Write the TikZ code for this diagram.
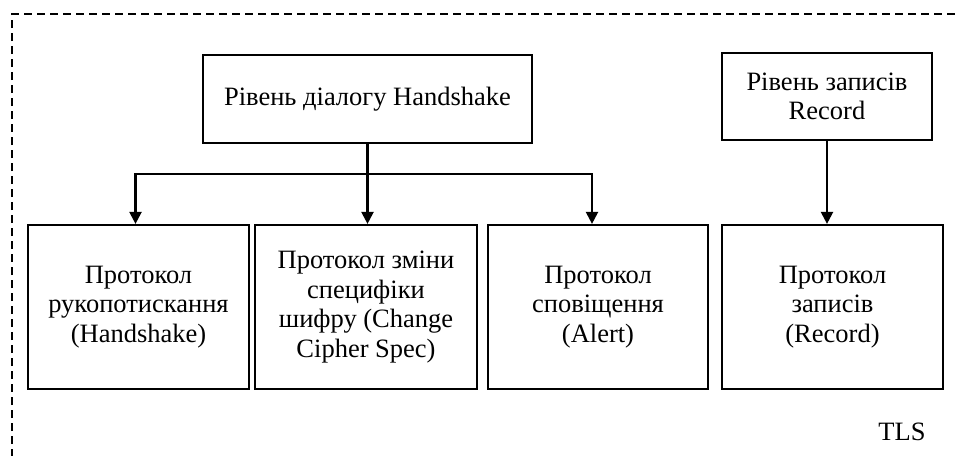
\documentclass[tikz,border=0pt]{standalone}
\usepackage{fontspec}
\setmainfont{Liberation Serif}
\usetikzlibrary{arrows.meta,calc}
\begin{document}
\begin{tikzpicture}[x=1pt,y=-1pt,
  txt/.style={font=\fontsize{26.5}{29.5}\selectfont},
  box/.style={txt,draw,line width=2.2pt,align=center,inner sep=0pt},
  arr/.style={line width=2.2pt,-{Triangle[length=12pt,width=12pt]}},
  frame/.style={line width=2.2pt,dash pattern=on 8pt off 5pt}]
\useasboundingbox (0,0) rectangle (958,455);
% TLS frame (open to the right and bottom)
\draw[frame] (12,470) -- (12,14) -- (970,14);
% upper level boxes
\node[box,minimum width=329pt,minimum height=88pt] (hs) at (367.5,99) {Рівень діалогу Handshake};
\node[box,minimum width=210pt,minimum height=87pt] (rl) at (827,96.5) {Рівень записів\\Record};
% protocol boxes
\node[box,minimum width=221pt,minimum height=164pt] (b1) at (138.5,307) {Протокол\\рукопотискання\\(Handshake)};
\node[box,minimum width=222pt,minimum height=164pt] (b2) at (366,307) {Протокол зміни\\специфіки\\шифру (Change\\Cipher Spec)};
\node[box,minimum width=220pt,minimum height=164pt] (b3) at (598,307) {Протокол\\сповіщення\\(Alert)};
\node[box,minimum width=221pt,minimum height=164pt] (b4) at (832.5,307) {Протокол\\записів\\(Record)};
\node[txt] (tls) at (902,432) {TLS};
% connectors
\coordinate (split) at ($(hs.south)+(0,30)$);
\draw[line width=2.2pt] (hs.south) -- (split);
\draw[arr] (split) -| ($(b1.north)+(-3,0)$);
\draw[arr] (split) -| ($(b3.north)+(-6,0)$);
\draw[arr] (hs.south) -- (hs.south |- b2.north);
\draw[arr] (rl.south) -- (rl.south |- b4.north);
\end{tikzpicture}
\end{document}
